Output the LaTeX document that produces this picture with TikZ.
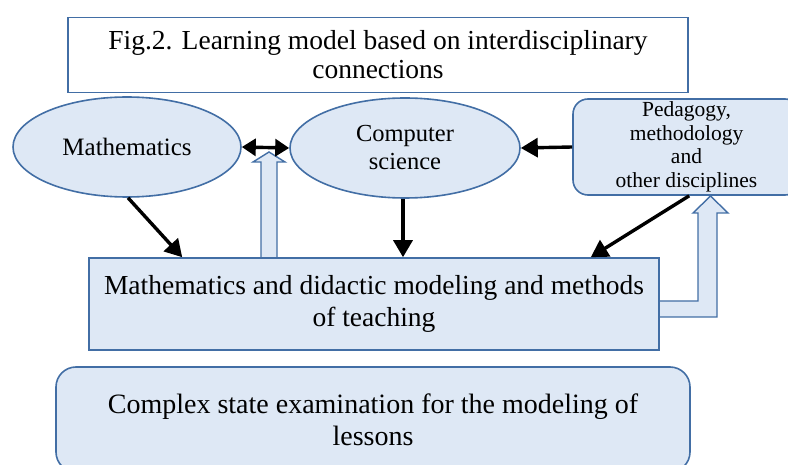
\documentclass[tikz,border=0pt]{standalone}
\usepackage{fontspec}
\setmainfont{Liberation Serif}
\usetikzlibrary{shapes.geometric,arrows.meta,calc}
\definecolor{bord}{RGB}{66,110,165}
\definecolor{fillb}{RGB}{222,232,245}
\tikzset{
  box/.style={draw=bord,line width=1.6pt,fill=fillb,inner sep=0pt,align=center},
  ell/.style={ellipse,draw=bord,line width=1.6pt,fill=fillb,inner sep=0pt,align=center},
  arr/.style={line width=3.4pt,-{Triangle[length=17pt,width=19pt]}},
  barr/.style={line width=3.4pt,{Triangle[length=14pt,width=17pt]}-{Triangle[length=14pt,width=17pt]}},
  blk/.style={draw=bord,line width=1.4pt,fill=fillb,line join=miter},
}
\begin{document}
\begin{tikzpicture}[x=1pt,y=-1pt]
\useasboundingbox (0,0) rectangle (788,465);
\node[box,fill=white,minimum width=620pt,minimum height=75pt,font=\fontsize{27.5}{29}\selectfont] (title) at (378,55)
  {Fig.2. Learning model based on interdisciplinary\\connections};
\node[ell,minimum width=228pt,minimum height=100pt,font=\fontsize{25}{28}\selectfont] (math) at (127,147) {Mathematics};
\node[ell,minimum width=230pt,minimum height=100pt,font=\fontsize{24.5}{28}\selectfont] (cs) at (405,148) {Computer\\science};
\node[box,rounded corners=15pt,minimum width=227pt,minimum height=96pt,font=\fontsize{21.5}{23.5}\selectfont] (ped) at (686.5,147)
  {Pedagogy,\\methodology\\and\\other disciplines};
\node[box,minimum width=570pt,minimum height=92pt,font=\fontsize{27.5}{32}\selectfont] (mid) at (374,304)
  {Mathematics and didactic modeling and methods\\of teaching};
\node[box,rounded corners=20pt,minimum width=634pt,minimum height=105pt,font=\fontsize{28}{32}\selectfont] (exam) at (373,419.5)
  {Complex state examination for the modeling of\\lessons};
% block arrows
\draw[blk] (261,257) -- (261,162) -- (253,162) -- (269,152) -- (285,162) -- (277,162) -- (277,257);
\draw[blk] (660,301) -- (698,301) -- (698,213) -- (693,213) -- (710.5,196) -- (728,213) -- (717,213) -- (717,317) -- (660,317);
% black arrows
\draw[arr] ($(math.south)+(1,0)$) -- ($(mid.north west)+(94,0)$);
\draw[arr] ($(cs.south)+(-2,0)$) -- ($(mid.north)+(29,0)$);
\draw[arr] ($(ped.south west)+(117,0)$) -- ($(mid.north east)+(-69,0)$);
\draw[arr] (ped.west) -- (cs.east);
\draw[barr] (math.east) -- (cs.west);
\end{tikzpicture}
\end{document}
